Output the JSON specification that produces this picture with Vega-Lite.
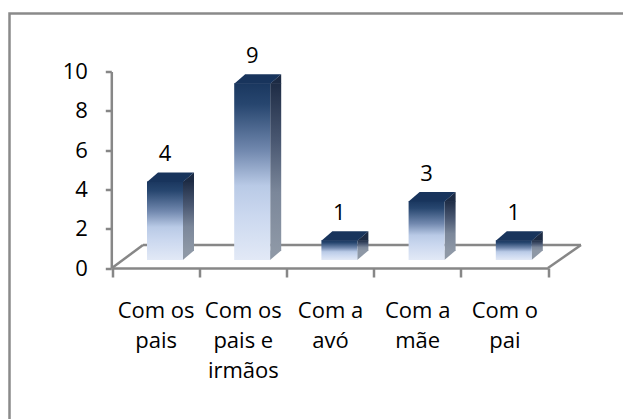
{
  "$schema": "https://vega.github.io/schema/vega-lite/v6.json",
  "autosize": "none",
  "width": 618.5,
  "height": 410.5,
  "padding": {"left": 9.5, "top": 13.5, "right": -5, "bottom": -5},
  "background": "white",
  "config": {
    "view": {"stroke": "#8a8a8a", "strokeWidth": 2.5, "fill": "white"},
    "font": "Open Sans",
    "axis": {"grid": false, "title": null, "domainColor": "#878787", "domainWidth": 2.5, "tickColor": "#878787", "tickWidth": 2.5, "labelFont": "Open Sans", "labelFontSize": 22, "labelColor": "#000000"}
  },
  "data": {"values": [
    {"categoria": "Com os pais", "valor": 4},
    {"categoria": "Com os pais e irmãos", "valor": 9},
    {"categoria": "Com a avó", "valor": 1},
    {"categoria": "Com a mãe", "valor": 3},
    {"categoria": "Com o pai", "valor": 1}
  ]},
  "resolve": {"scale": {"x": "independent"}, "axis": {"x": "independent"}},
  "layer": [
    {
      "data": {"values": [{"inicio": 0, "fim": 5}]},
      "encoding": {
        "y": {"datum": 0, "type": "quantitative", "scale": {"domain": [0, 10], "nice": false, "zero": true, "range": [254.5, 58]}}
      },
      "layer": [
        {
          "mark": {"type": "rule", "color": "#878787", "strokeWidth": 2.5, "xOffset": 31, "x2Offset": 33, "yOffset": -23},
          "encoding": {"x": {"field": "inicio", "type": "quantitative", "scale": {"domain": [0, 5], "range": [102.5, 538.5], "nice": false, "zero": false}, "axis": null}, "x2": {"field": "fim"}}
        },
        {
          "mark": {"type": "rule", "color": "#878787", "strokeWidth": 2.5, "x2Offset": 31, "y2Offset": -23},
          "encoding": {"x": {"field": "inicio", "type": "quantitative", "axis": null}, "x2": {"field": "inicio"}, "y2": {"datum": 0}}
        },
        {
          "mark": {"type": "rule", "color": "#878787", "strokeWidth": 2.5, "x2Offset": 33, "y2Offset": -23},
          "encoding": {"x": {"field": "fim", "type": "quantitative", "axis": null}, "x2": {"field": "fim"}, "y2": {"datum": 0}}
        }
      ]
    },
    {
      "encoding": {
        "x": {"field": "categoria", "type": "nominal", "sort": null,
          "scale": {"domain": ["Com os pais", "Com os pais e irmãos", "Com a avó", "Com a mãe", "Com o pai"], "range": [102.5, 538.5], "paddingInner": 0, "paddingOuter": 0},
          "axis": {"orient": "bottom", "offset": -156, "labelAngle": 0, "tickBand": "extent", "tickSize": 9, "labelPadding": 23, "labelLineHeight": 30, "labelOverlap": false, "labelBound": false,
            "labelExpr": "[join(slice(split(datum.label, ' '), 0, 2), ' '), join(slice(split(datum.label, ' '), 2, 4), ' '), join(slice(split(datum.label, ' '), 4), ' ')]"}},
        "y": {"field": "valor", "type": "quantitative",
          "scale": {"domain": [0, 10], "nice": false, "zero": true, "range": [254.5, 58]},
          "axis": {"orient": "left", "offset": -101.8, "values": [0, 2, 4, 6, 8, 10], "tickSize": 6, "labelPadding": 18}}
      },
      "layer": [
        {
          "mark": {"type": "bar", "width": 11, "xOffset": 32.9, "yOffset": -8, "y2Offset": -17,
            "fill": {"gradient": "linear", "x1": 0, "y1": 0, "x2": 0, "y2": 1, "stops": [
              {"offset": 0, "color": "#1e2c45"}, {"offset": 0.35, "color": "#4a5872"}, {"offset": 0.65, "color": "#7b879a"}, {"offset": 1, "color": "#8e98a6"}]}},
          "encoding": {"y2": {"datum": 0}}
        },
        {
          "mark": {"type": "point", "filled": true, "opacity": 1, "size": 4, "strokeWidth": 0, "color": "#1d2b44", "yOffset": -8,
            "shape": "M 27.2 0.5 L 38.4 -9 L 38.4 0.5 Z"}
        },
        {
          "mark": {"type": "point", "filled": true, "opacity": 1, "size": 4, "strokeWidth": 0, "color": "#8e98a6", "yOffset": -8,
            "shape": "M 27.2 -9.5 L 27.2 0 L 38.4 -9.5 Z"},
          "encoding": {"y": {"datum": 0, "type": "quantitative"}}
        },
        {
          "mark": {"type": "bar", "width": 36, "xOffset": 9.4, "yOffset": -8, "y2Offset": -8,
            "fill": {"gradient": "linear", "x1": 0, "y1": 0, "x2": 0, "y2": 1, "stops": [
              {"offset": 0, "color": "#1a375f"}, {"offset": 0.12, "color": "#27466f"}, {"offset": 0.38, "color": "#7188ae"}, {"offset": 0.58, "color": "#b9cae6"}, {"offset": 0.75, "color": "#cbd8ef"}, {"offset": 1, "color": "#e2e9f6"}]}},
          "encoding": {"y2": {"datum": 0}}
        },
        {
          "mark": {"type": "point", "filled": true, "opacity": 1, "size": 4, "strokeWidth": 0, "color": "#18345c", "yOffset": -8,
            "shape": "M -8.6 0.5 L 27.4 0.5 L 38.4 -9 L 2.4 -9 Z"}
        },
        {
          "mark": {"type": "text", "font": "Open Sans", "fontSize": 22, "color": "#000000", "align": "center", "baseline": "alphabetic", "xOffset": 9.4, "yOffset": -28},
          "encoding": {"text": {"field": "valor", "type": "quantitative"}}
        }
      ]
    }
  ]
}
